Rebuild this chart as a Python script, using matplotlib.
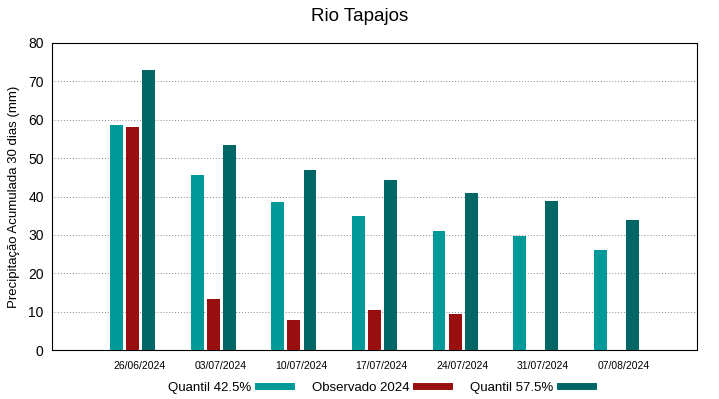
import numpy as np
import matplotlib
matplotlib.use('Agg')
import matplotlib.pyplot as plt
from matplotlib.lines import Line2D

plt.rcParams['font.family'] = ['Liberation Sans', 'DejaVu Sans']

# dados
datas = ['26/06/2024', '03/07/2024', '10/07/2024', '17/07/2024',
         '24/07/2024', '31/07/2024', '07/08/2024']
q425 = [58.7, 45.5, 38.6, 35.0, 31.0, 29.8, 26.0]
obs2024 = [58.2, 13.3, 7.8, 10.5, 9.5, np.nan, np.nan]
q575 = [73.0, 53.3, 47.0, 44.2, 41.0, 38.8, 34.0]

cor_q425 = '#009999'
cor_obs = '#990f0f'
cor_q575 = '#006666'

fig = plt.figure(figsize=(7.19, 3.99), dpi=100)
ax = fig.add_axes([52/719, 49/399, 645/719, 307/399])

x = np.arange(len(datas))
w = 0.16
ax.bar(x - 0.2, q425, w, color=cor_q425, zorder=3)
ax.bar(x, obs2024, w, color=cor_obs, zorder=3)
ax.bar(x + 0.2, q575, w, color=cor_q575, zorder=3)

ax.set_xlim(-1, 7)
ax.set_ylim(0, 80)
ax.set_yticks(np.arange(0, 81, 10))
ax.set_xticks(x + 0.09)
ax.set_xticklabels(datas, fontsize=7.5)
ax.tick_params(axis='x', length=0, pad=8)
ax.tick_params(axis='y', length=0, labelsize=10, pad=6)
ax.yaxis.grid(True, linestyle=(0, (1, 2)), color='#888888', linewidth=0.7, zorder=0)
for s in ax.spines.values():
    s.set_linewidth(0.8)

ax.set_ylabel('Precipitação Acumulada 30 dias (mm)', fontsize=9.5, labelpad=6)
fig.text(0.5, 0.958, 'Rio Tapajos', ha='center', va='center', fontsize=13.5)

handles = [Line2D([], [], color=cor_q425, linewidth=5),
           Line2D([], [], color=cor_obs, linewidth=5),
           Line2D([], [], color=cor_q575, linewidth=5)]
fig.legend(handles, ['Quantil 42.5%', 'Observado 2024', 'Quantil 57.5%'],
           loc='center', bbox_to_anchor=(0.529, 0.028), ncol=3, frameon=False,
           markerfirst=False, fontsize=9.5, handlelength=2.5, columnspacing=1.6,
           handletextpad=0.5)

fig.savefig('out.png', dpi=100)
